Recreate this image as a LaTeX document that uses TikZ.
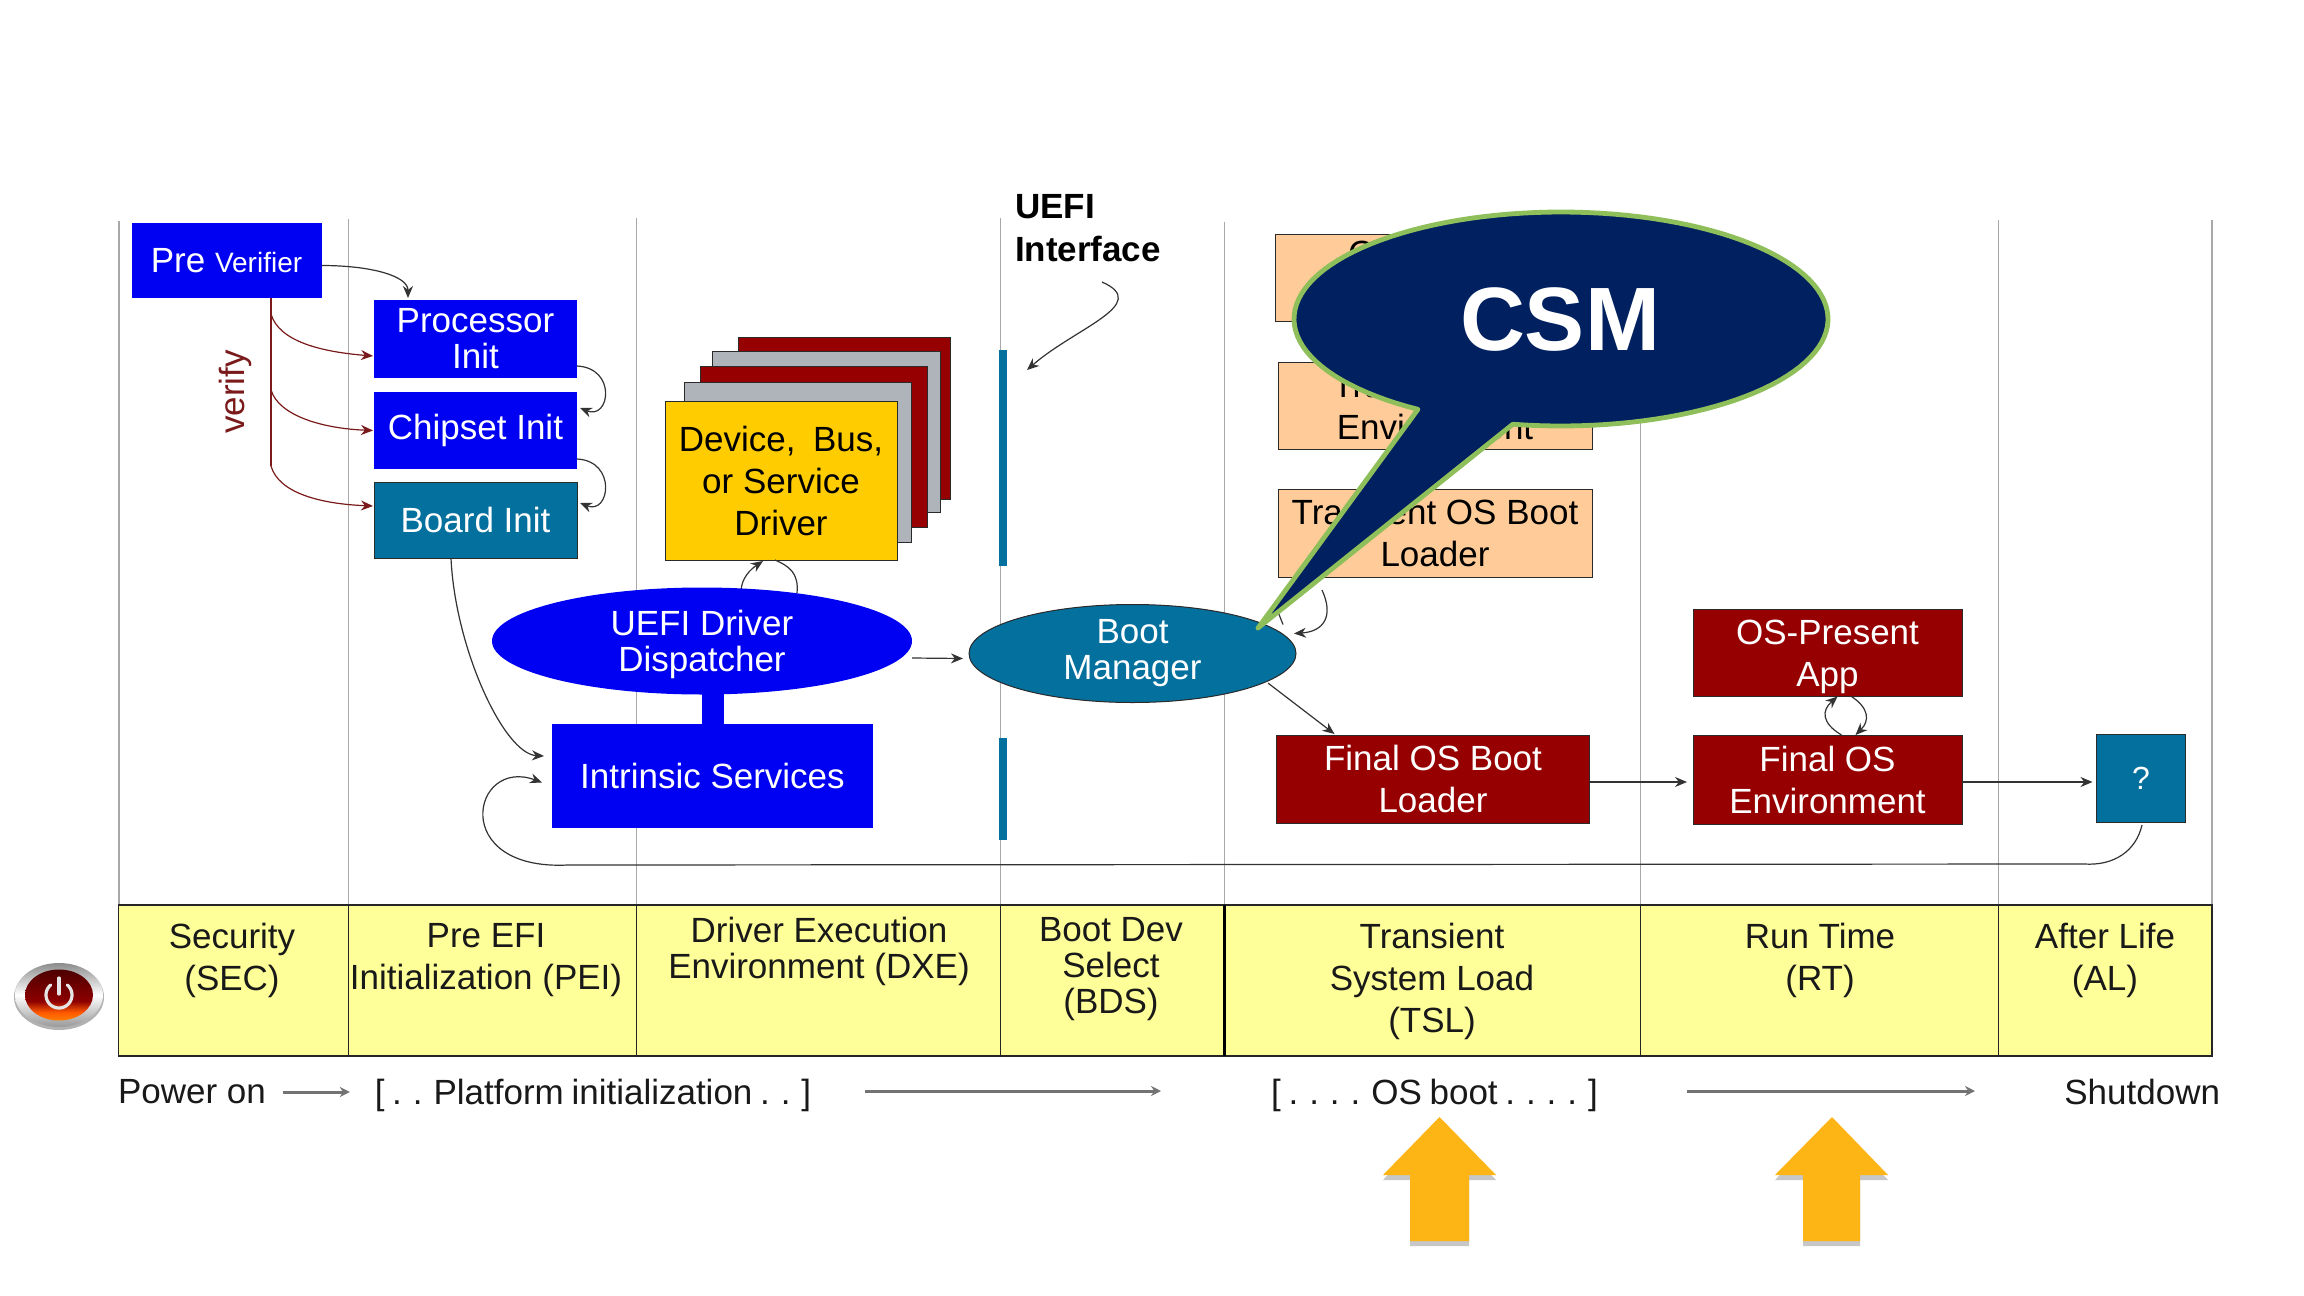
\documentclass[tikz,border=0pt]{standalone}
\usepackage{fontspec}
\setmainfont{Liberation Sans}
\usetikzlibrary{arrows.meta,calc,shapes.geometric}
\definecolor{kblue}{HTML}{0000F2}
\definecolor{kteal}{HTML}{04709E}
\definecolor{kred}{HTML}{960000}
\definecolor{korange}{HTML}{FFCC99}
\definecolor{kgold}{HTML}{FFCC00}
\definecolor{kgrey}{HTML}{AEB4BA}
\definecolor{kband}{HTML}{FFFF99}
\definecolor{kvline}{HTML}{A8A8A8}
\definecolor{knavy}{HTML}{002060}
\definecolor{kgreen}{HTML}{8FBF5A}
\definecolor{kverify}{HTML}{7A1A1A}
\definecolor{kup}{HTML}{FDB515}
\definecolor{kedge}{HTML}{2A2A2A}
\pgfdeclareverticalshading{kicon}{100bp}{color(0bp)=(orange); color(25bp)=(orange); color(33bp)=(orange!70!red); color(44bp)=(red!55!black); color(75bp)=(red!30!black); color(100bp)=(red!30!black)}
\tikzset{
  base/.style={inner sep=0pt,outer sep=0pt,align=center,font=\fontsize{17.5}{21}\selectfont},
  bluebox/.style={base,rectangle,fill=kblue,text=white},
  tealbox/.style={base,rectangle,fill=kteal,draw=kedge,line width=.5pt,text=white},
  redbox/.style={base,rectangle,fill=kred,draw=kedge,line width=.5pt,text=white},
  orangebox/.style={base,rectangle,fill=korange,draw=kedge,line width=.5pt,text=black},
  stackred/.style={base,rectangle,fill=kred,draw=kedge,line width=.5pt},
  stackgrey/.style={base,rectangle,fill=kgrey,draw=kedge,line width=.5pt},
  goldbox/.style={base,rectangle,fill=kgold,draw=kedge,line width=.5pt,text=black},
  tight/.style={font=\fontsize{17.5}{18}\selectfont},
  cell/.style={base,rectangle,fill=kband,draw=black!85,line width=.6pt},
  celltext/.style={base,text=black!90},
  conn/.style={line width=.6pt,draw=black!80,-{Stealth[length=6pt,width=5pt]}},
  verifyarrow/.style={line width=.6pt,draw=kverify,-{Stealth[length=6pt,width=5pt]}},
  vline/.style={line width=.6pt,draw=kvline},
  grayarrow/.style={line width=1.5pt,draw=black!55,-{Stealth[length=5pt,width=5pt]}},
  ubar/.style={line width=3.6pt,draw=kteal},
}
\begin{document}
\begin{tikzpicture}[x=0.5pt,y=-0.5pt]
\useasboundingbox (0,0) rectangle (2304,1296);
\fill[white] (0,0) rectangle (2304,1296);

% column guide lines
\coordinate (t0) at (119,221); \coordinate (b0) at (119,905);
\coordinate (t1) at (348.5,219); \coordinate (b1) at (348.5,905);
\coordinate (t2) at (636.5,218); \coordinate (b2) at (636.5,905);
\coordinate (t3) at (1000.5,218); \coordinate (b3) at (1000.5,905);
\coordinate (t4) at (1224.5,222); \coordinate (b4) at (1224.5,905);
\coordinate (t5) at (1640.5,225); \coordinate (b5) at (1640.5,905);
\coordinate (t6) at (1998.5,220); \coordinate (b6) at (1998.5,905);
\coordinate (t7) at (2212,220); \coordinate (b7) at (2212,905);
\foreach \i in {0,...,7} \draw[vline] (t\i) -- (b\i);

% UEFI interface bars
\coordinate (ba) at (1003,350); \coordinate (bb) at (1003,566);
\coordinate (bc) at (1003,738); \coordinate (bd) at (1003,840);
\draw[ubar] (ba) -- (bb);
\draw[ubar] (bc) -- (bd);

% SEC / PEI boxes
\node[bluebox,minimum width=95pt,minimum height=37.5pt] (pre) at (226.5,260.5) {Pre {\fontsize{14}{16}\selectfont Verifier}};
\node[bluebox,tight,minimum width=101.5pt,minimum height=39pt] (proc) at (475.5,339) {Processor\\Init};
\node[bluebox,minimum width=101.5pt,minimum height=38.5pt] (chip) at (475.5,430.5) {Chipset Init};
\node[tealbox,minimum width=101.5pt,minimum height=38pt] (board) at (475.5,520) {Board Init};

% verify trunk and branches
\node[base,rotate=90,text=kverify] (verify) at (235,392) {verify};
\coordinate (v1) at (271,314);
\coordinate (v2) at (271,390);
\coordinate (v3) at (271,466);
\draw[line width=.6pt,draw=kverify] ($(pre.south west)+(139.5,0)$) -- (v3);
\draw[verifyarrow] (v1) .. controls +(8,28) and +(-50,-4) .. ($(proc.west)+(-1,17)$);
\draw[verifyarrow] (v2) .. controls +(8,26) and +(-50,-2) .. ($(chip.west)+(-1,0)$);
\draw[verifyarrow] (v3) .. controls +(8,28) and +(-50,-2) .. ($(board.west)+(-1,-14)$);

\draw[conn] ($(pre.east)+(0,5)$) .. controls +(50,0) and +(0,-22) .. ($(proc.north west)+(34,-2)$);
\draw[conn] ($(proc.south east)+(0,-12)$) .. controls +(40,2) and +(30,12) .. ($(chip.north east)+(3,16)$);
\draw[conn] ($(chip.south east)+(0,-10)$) .. controls +(40,2) and +(30,12) .. ($(board.north east)+(3,21)$);
\draw[conn] ($(board.south west)+(77,0)$) .. controls +(4,90) and +(-40,-2) .. ($(board.south west)+(170,198)$);

% driver stack
\node[stackred,minimum width=106pt,minimum height=81pt] (s4) at (844,418) {};
\node[stackgrey,minimum width=114pt,minimum height=80.5pt] (s3) at (826,431.5) {};
\node[stackred,minimum width=113.5pt,minimum height=80.5pt] (s2) at (813.5,446.5) {};
\node[stackgrey,minimum width=113.5pt,minimum height=80pt] (s1) at (797.5,462) {};
\node[goldbox,minimum width=116pt,minimum height=79.5pt] (drv) at (781,480.5) {Device,\enspace Bus,\\or Service\\Driver};

% dispatcher & services
\node[base,rectangle,fill=kblue,minimum width=11pt,minimum height=16pt] (stub) at (712.5,709) {};
\draw[line width=.6pt,draw=black!80] ($(drv.south west)+(110,0)$) .. controls +(14,6) and +(2,-20) .. (797,593);
\coordinate (lp1) at ($(drv.south west)+(98,1)$);
\draw[conn] (741,592) .. controls +(0,-14) and +(-12,8) .. (lp1);
\node[base,ellipse,tight,fill=kblue,text=white,minimum width=210pt,minimum height=53.5pt] (disp) at (702,641) {\rule{0pt}{16pt}UEFI Driver\\Dispatcher};
\node[bluebox,minimum width=160.5pt,minimum height=52pt] (intr) at (712.5,776) {Intrinsic Services};

\node[base,font=\bfseries\fontsize{17.5}{21.5}\selectfont,align=left,anchor=north west] (uefi) at (1015,194) {UEFI\\Interface};
\coordinate (ustart) at (1102,282);
\draw[conn] (ustart) .. controls +(50,22) and +(48,-42) .. ($(ba)+(24,20)$);

% OS boxes
\node[orangebox,minimum width=158.5pt,minimum height=43.5pt] (osa) at (1434,277.5) {OS-Absent\\App};
\node[orangebox,minimum width=157pt,minimum height=43.5pt] (tenv) at (1435,405.5) {Transient OS\\Environment};
\node[orangebox,minimum width=157pt,minimum height=44pt] (tldr) at (1435,533) {Transient OS Boot\\Loader};

\node[base,ellipse,tight,fill=kteal,draw=kedge,line width=.5pt,text=white,minimum width=163.5pt,minimum height=49pt] (bm) at (1132.5,653.5) {Boot\\Manager};

\node[redbox,minimum width=156.5pt,minimum height=44pt] (fldr) at (1433,779) {Final OS Boot\\Loader};
\node[redbox,minimum width=134.5pt,minimum height=43.5pt] (opa) at (1827.5,653) {\rule{0pt}{16pt}OS-Present\\App};
\node[redbox,minimum width=134.5pt,minimum height=44.5pt] (fenv) at (1827.5,779.5) {Final OS\\Environment};
\node[tealbox,font=\fontsize{16}{18}\selectfont,minimum width=44.5pt,minimum height=44pt] (q) at (2141,778) {?};

\draw[conn] (disp.east |- 0,658) -- ($(bm.west)+(-6,5)$);
\draw[conn] ($(bm.south east)+(20,-5)$) -- ($(fldr.north west)+(58,-1)$);
\draw[conn] (fldr.east |- 0,782) -- ($(fenv.west)+(-6,2.5)$);
\draw[conn] (fenv.east |- 0,782) -- ($(q.west)+(-4,4)$);
\draw[conn] ($(fenv.north)+(14,0)$) .. controls +(-20,-12) and +(-16,14) .. ($(opa.south)+(10,0)$);
\draw[conn] ($(opa.south)+(24,0)$) .. controls +(18,12) and +(14,-14) .. ($(fenv.north)+(28,0)$);
\coordinate (retc) at (2084,864);
\coordinate (retd) at (568,865);
\draw[line width=.6pt,draw=black!80] ($(q.south)+(1,3)$) .. controls +(-6,26) and +(30,2) .. (retc) -- (retd);
\draw[conn] (retd) .. controls +(-120,6) and +(-70,-26) .. ($(intr.west)+(-10,6.5)$);

\draw[conn] ($(tldr.south west)+(44,13)$) .. controls +(12,26) and +(30,-2) .. ($(bm.east)+(-2,-20)$);
\draw[line width=.6pt,draw=black!80] ($(bm.east)+(-13,-29)$) -- ($(tldr.south west)+(0,35)$);

% phase band
\node[cell,minimum width=115pt,minimum height=75.5pt] (c0) at (233.75,980.5) {};
\node[cell,minimum width=144pt,minimum height=75.5pt] (c1) at (492.5,980.5) {};
\node[cell,minimum width=182pt,minimum height=75.5pt] (c2) at (818.5,980.5) {};
\node[cell,minimum width=112pt,minimum height=75.5pt] (c3) at (1112.5,980.5) {};
\node[cell,minimum width=208pt,minimum height=75.5pt] (c4) at (1432.5,980.5) {};
\node[cell,minimum width=179pt,minimum height=75.5pt] (c5) at (1819.5,980.5) {};
\node[cell,minimum width=106.75pt,minimum height=75.5pt] (c6) at (2105.25,980.5) {};
\draw[line width=1.1pt,draw=black] (c4.north west) -- (c4.south west);

\node[celltext] (c0t) at (232,960.5) {Security\\(SEC)};
\node[celltext] (c1t) at (486,960.5) {Pre EFI\\Initialization (PEI)};
\node[celltext,tight] (c2t) at (819,951) {Driver Execution\\Environment (DXE)};
\node[celltext,tight] (c3t) at (1111,969) {Boot Dev\\Select\\(BDS)};
\node[celltext] (c4t) at (1432,981.5) {Transient\\System Load\\(TSL)};
\node[celltext] (c5t) at (1820,960.5) {Run Time\\(RT)};
\node[celltext] (c6t) at (2105,960.5) {After Life\\(AL)};

% timeline
\node[celltext,anchor=west] (pon) at (118,1092) {Power on};
\node[celltext] (plat) at (593,1095) {\spaceskip=.22em [ . . Platform initialization . . ]};
\node[celltext] (osb) at (1434.5,1095) {\spaceskip=.22em [ . . . . OS boot . . . . ]};
\node[celltext,anchor=east] (sd) at (2220,1092) {Shutdown};
\coordinate (pa) at (865,1091); \coordinate (pb) at (1161,1091);
\coordinate (pc) at (1687,1091); \coordinate (pd) at (1975,1091);
\draw[grayarrow] ($(pon.east)+(17,0)$) -- ($(plat.west)+(-25,-3)$);
\draw[grayarrow] (pa) -- (pb);
\draw[grayarrow] (pc) -- (pd);

% power icon
\fill[black!30] (59,997) ellipse [x radius=45, y radius=33];
\shade[top color=black!45,bottom color=black!40,middle color=white] (59,995) ellipse [x radius=44, y radius=32];
\shade[shading=kicon] (59,995) ellipse [x radius=34, y radius=25.5];
\draw[white!90!black,line width=1.6pt,line cap=round] plot[domain=-140:140,samples=30] ({59+13*sin(\x)},{995+13*cos(\x)});
\draw[white!90!black,line width=1.6pt,line cap=round] (59,978) -- (59,994);

% up arrows
\path[fill=black!22] (1439.5,1122) -- (1496,1180) -- (1469,1180) -- (1469,1246) -- (1410,1246) -- (1410,1180) -- (1383,1180) -- cycle;
\path[fill=kup] (1439.5,1117) -- (1496,1175) -- (1469,1175) -- (1469,1241) -- (1410,1241) -- (1410,1175) -- (1383,1175) -- cycle;
\path[fill=black!22] (1832,1122) -- (1888,1180) -- (1860,1180) -- (1860,1246) -- (1803,1246) -- (1803,1180) -- (1775,1180) -- cycle;
\path[fill=kup] (1832,1117) -- (1888,1175) -- (1860,1175) -- (1860,1241) -- (1803,1241) -- (1803,1175) -- (1775,1175) -- cycle;

% callout
\draw[fill=knavy,draw=kgreen,line width=2.4pt,line join=round]
  plot[domain=122.4:460.4,samples=120] ({1561+267*cos(\x)},{319+107*sin(\x)})
  -- (1258,628) -- cycle;
\node[base,text=white,font=\bfseries\fontsize{45}{50}\selectfont] (csm) at (1560,320) {CSM};
\end{tikzpicture}
\end{document}
